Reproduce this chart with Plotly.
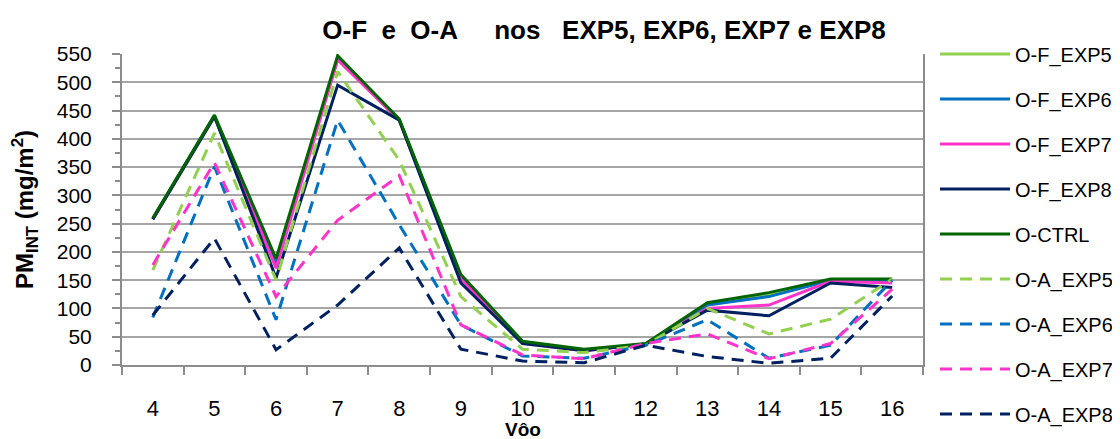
import plotly.graph_objects as go

# dados
voos = ["4", "5", "6", "7", "8", "9", "10", "11", "12", "13", "14", "15", "16"]

of_exp5 = [258, 438, 182, 540, 433, 155, 40, 26, 37, 106, 124, 150, 150]
of_exp6 = [258, 440, 178, 542, 434, 156, 40, 26, 37, 106, 121, 150, 150]
of_exp7 = [258, 440, 171, 540, 433, 152, 39, 25, 37, 100, 106, 148, 145]
of_exp8 = [258, 440, 154, 495, 433, 145, 38, 25, 37, 97, 87, 145, 137]
o_ctrl = [260, 442, 188, 547, 435, 160, 42, 28, 38, 110, 128, 152, 152]
oa_exp5 = [168, 410, 150, 519, 362, 121, 28, 22, 35, 100, 55, 81, 152]
oa_exp6 = [84, 351, 80, 433, 248, 71, 16, 12, 35, 80, 12, 35, 150]
oa_exp7 = [177, 358, 121, 256, 335, 71, 18, 11, 38, 55, 11, 38, 134]
oa_exp8 = [88, 224, 27, 106, 207, 28, 7, 4, 35, 15, 3, 12, 122]

series = [
    ("O-F_EXP5", of_exp5, "#92D050", "solid"),
    ("O-F_EXP6", of_exp6, "#0070C0", "solid"),
    ("O-F_EXP7", of_exp7, "#FF33CC", "solid"),
    ("O-F_EXP8", of_exp8, "#002060", "solid"),
    ("O-CTRL", o_ctrl, "#006400", "solid"),
    ("O-A_EXP5", oa_exp5, "#92D050", "12px,8px"),
    ("O-A_EXP6", oa_exp6, "#0070C0", "12px,8px"),
    ("O-A_EXP7", oa_exp7, "#FF33CC", "12px,8px"),
    ("O-A_EXP8", oa_exp8, "#002060", "12px,8px"),
]

fig = go.Figure()

for nome, valores, cor, traco in series:
    fig.add_trace(
        go.Scatter(
            x=voos,
            y=valores,
            mode="lines",
            name=nome,
            legendgroup=nome,
            line=dict(color=cor, width=3, dash=traco),
        )
    )

fonte = "Liberation Sans, Arial, sans-serif"

# título do eixo x
fig.add_annotation(
    text="<b>Vôo</b>",
    xref="paper",
    yref="paper",
    x=0.5,
    y=-0.206,
    xanchor="center",
    yanchor="middle",
    showarrow=False,
    font=dict(size=19),
)

# a página tem 8px de margem no body
fig.update_layout(
    width=1112,
    height=431,
    margin=dict(l=114, r=197, t=46, b=74, autoexpand=False),
    paper_bgcolor="white",
    plot_bgcolor="white",
    font=dict(family=fonte, size=21, color="black"),
    title=dict(
        text="<b>O-F\u00a0 e\u00a0 O-A\u00a0\u00a0\u00a0\u00a0 nos\u00a0\u00a0 EXP5, EXP6, EXP7 e EXP8</b>",
        x=0.536,
        xanchor="center",
        y=0.949,
        yanchor="middle",
        font=dict(size=26),
    ),
    legend=dict(
        x=1.015,
        xanchor="left",
        y=1.063,
        yanchor="top",
        traceorder="grouped",
        tracegroupgap=16,
        itemwidth=70,
        maxheight=431,
        font=dict(size=20),
    ),
    xaxis=dict(
        type="category",
        range=[-0.5, len(voos) - 0.5],
        showgrid=False,
        showline=True,
        linecolor="#8c8c8c",
        linewidth=2,
        ticks="outside",
        tickson="boundaries",
        ticklen=8,
        tickcolor="#8c8c8c",
        tickwidth=2,
        ticklabelstandoff=23,
        tickfont=dict(size=22),
    ),
    yaxis=dict(
        range=[0, 550],
        dtick=50,
        showgrid=True,
        gridcolor="#a6a6a6",
        gridwidth=2,
        showline=True,
        linecolor="#8c8c8c",
        linewidth=2,
        mirror=True,
        ticks="outside",
        ticklen=8,
        tickcolor="#8c8c8c",
        tickwidth=2,
        zeroline=False,
        minor=dict(ticks="outside", dtick=25, ticklen=5, tickcolor="#8c8c8c", tickwidth=2, showgrid=False),
        ticklabelstandoff=16,
        title=dict(text="<b>PM<sub>INT</sub> (mg/m<sup>2</sup>)</b>", standoff=16, font=dict(size=24)),
    ),
)

fig.write_html("out.html")
